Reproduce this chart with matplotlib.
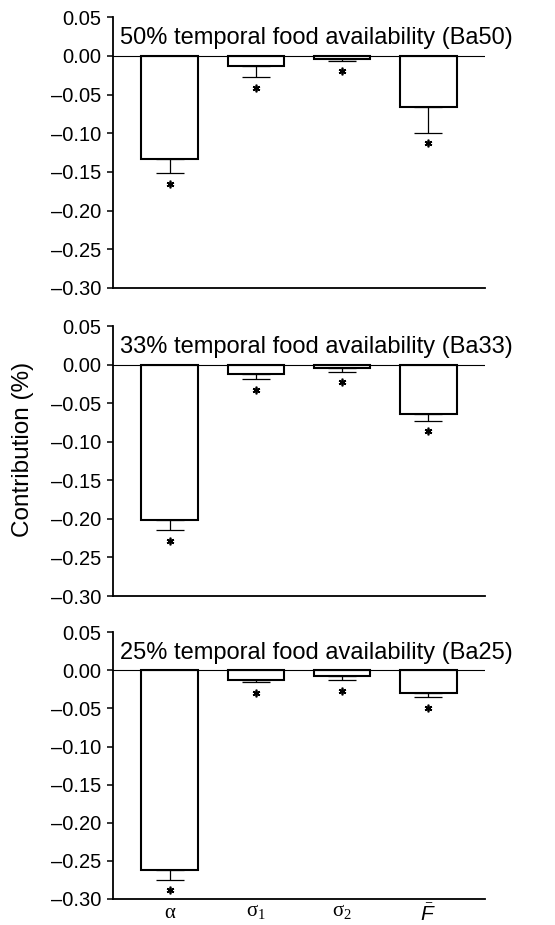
import numpy as np
import matplotlib
matplotlib.use("Agg")
import matplotlib.pyplot as plt
from matplotlib.transforms import blended_transform_factory

plt.rcParams['font.family'] = ['Liberation Sans', 'DejaVu Sans']
plt.rcParams['mathtext.fontset'] = 'custom'
plt.rcParams['mathtext.rm'] = 'Liberation Serif'
plt.rcParams['mathtext.it'] = 'Liberation Sans:italic'

# Data
params = [r'$\mathrm{\alpha}$', r'$\mathrm{\sigma}_\mathrm{1}$', r'$\mathrm{\sigma}_\mathrm{2}$', r'$\bar{F}$']
titles = ['50% temporal food availability (Ba50)',
          '33% temporal food availability (Ba33)',
          '25% temporal food availability (Ba25)']
ba50 = [-0.133, -0.013, -0.004, -0.066]
ba50_err = [0.018, 0.014, 0.002, 0.033]
ba33 = [-0.201, -0.0125, -0.0047, -0.064]
ba33_err = [0.014, 0.0065, 0.0045, 0.0085]
ba25 = [-0.2615, -0.012, -0.0078, -0.030]
ba25_err = [0.013, 0.0035, 0.0047, 0.0055]
values = [ba50, ba33, ba25]
errors = [ba50_err, ba33_err, ba25_err]

W, H = 555, 925
fig = plt.figure(figsize=(W / 100, H / 100), dpi=100)

# panel boxes in pixels: (top, bottom)
boxes = [(17.3, 288), (326, 596), (632.3, 899)]
left_px, right_px = 113, 485

yt = np.arange(-0.30, 0.051, 0.05)
ytl = ['0.00' if abs(v) < 1e-9 else f'{v:.2f}'.replace('-', '\u2013') for v in yt]

x = np.arange(len(params))
for i, (top, bot) in enumerate(boxes):
    ax = fig.add_axes([left_px / W, 1 - bot / H, (right_px - left_px) / W, (bot - top) / H])
    vals = values[i]
    errs = errors[i]
    ax.bar(x, vals, width=0.66, color='white', edgecolor='black', linewidth=1.5, zorder=2)
    ax.errorbar(x, vals, yerr=[errs, np.zeros(len(errs))], fmt='none', ecolor='black',
                elinewidth=0.9, capsize=10, capthick=0.9, zorder=1)
    ends = np.array(vals) - np.array(errs)
    ax.plot(x, ends - 0.014, linestyle='none', marker=(6, 2, 0), markersize=5.5,
            markeredgewidth=1.2, color='black')
    ax.axhline(0, color='black', linewidth=0.8, zorder=3)
    ax.set_xlim(-0.66, 3.66)
    ax.set_ylim(-0.30, 0.05)
    ax.set_yticks(yt)
    ax.set_yticklabels(ytl)
    ax.spines['top'].set_visible(False)
    ax.spines['right'].set_visible(False)
    ax.spines['left'].set_linewidth(1.3)
    ax.spines['bottom'].set_linewidth(1.3)
    ax.tick_params(axis='y', direction='out', length=4.3, width=1.1, labelsize=14.5, pad=4)
    ax.tick_params(axis='x', length=0, labelsize=15, pad=3)
    if i == 2:
        ax.set_xticks(x)
        ax.set_xticklabels(params)
    else:
        ax.set_xticks([])
    ax.text(0.019, 0.0155, titles[i], transform=blended_transform_factory(ax.transAxes, ax.transData),
            fontsize=17, va='baseline', ha='left', clip_on=False)

fig.text(23 / W, 1 - 449 / H, 'Contribution (%)', rotation=90, ha='center', va='center', fontsize=17.5)

plt.savefig('out.png', dpi=100)
